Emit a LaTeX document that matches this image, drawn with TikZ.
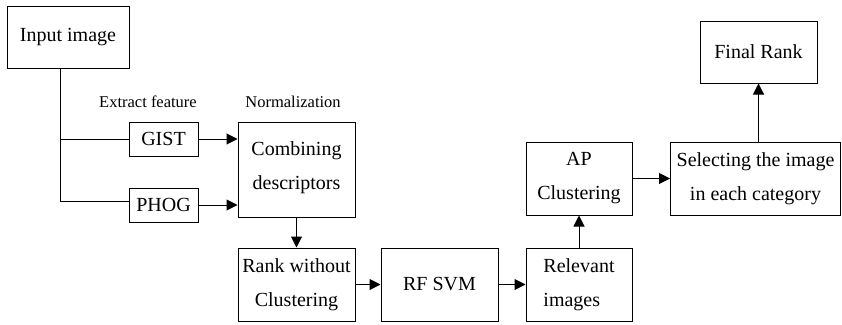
\documentclass[tikz,border=0pt]{standalone}
\usepackage{fontspec}
\setmainfont{Liberation Serif}
\usetikzlibrary{arrows.meta}
\begin{document}
\begin{tikzpicture}[x=1pt,y=-1pt,
  box/.style={draw,line width=1pt,inner sep=0pt,align=center,
    font=\fontsize{20}{34}\selectfont},
  note/.style={font=\fontsize{16.5}{20}\selectfont},
  wire/.style={line width=1pt},
  arr/.style={line width=1pt,-{Triangle[length=11pt,width=11pt]}}]
\useasboundingbox (0,0) rectangle (842,324);

% processing blocks
\node[box,minimum width=122pt,minimum height=62pt] (input) at (68,37) {Input image};
\node[box,minimum width=69pt,minimum height=34pt] (gist) at (163.5,139) {GIST};
\node[box,minimum width=69pt,minimum height=34pt] (phog) at (163.5,205) {PHOG};
\node[box,minimum width=117pt,minimum height=95pt,text depth=8pt] (comb) at (296.5,169.5) {Combining\\descriptors};
\node[box,minimum width=117pt,minimum height=73pt] (rank) at (296.5,284.5) {Rank without\\Clustering};
\node[box,minimum width=117pt,minimum height=73pt] (rf) at (439.5,284.5) {RF SVM};
\node[box,minimum width=106pt,minimum height=73pt,align=left] (rel) at (579,284.5) {Relevant\\images};
\node[box,minimum width=106pt,minimum height=73pt] (ap) at (579,178.5) {AP\\Clustering};
\node[box,minimum width=170pt,minimum height=73pt] (sel) at (755.5,178.5) {Selecting the image\\in each category};
\node[box,minimum width=117pt,minimum height=62pt] (final) at (758.5,52) {Final Rank};

% stage captions
\node[note] (extract) at (148,102) {Extract feature};
\node[note] (norm) at (293,102) {Normalization};

% feature extraction branches
\coordinate (trunk) at (60,201);
\draw[wire] (input.south -| trunk) -- (trunk) -- (trunk -| phog.west);
\draw[wire] (trunk |- gist.west) -- (gist.west);

% flow arrows
\draw[arr] (gist.east) -- (gist.east -| comb.west);
\draw[arr] (phog.east) -- (phog.east -| comb.west);
\draw[arr] (comb) -- (rank);
\draw[arr] (rank) -- (rf);
\draw[arr] (rf) -- (rel);
\draw[arr] (rel) -- (ap);
\draw[arr] (ap) -- (sel);
\draw[arr] (sel.north -| final) -- (final.south);
\end{tikzpicture}
\end{document}
